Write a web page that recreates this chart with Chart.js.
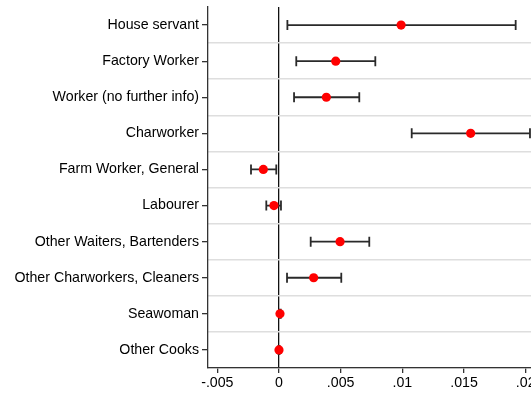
<!DOCTYPE html>
<html>
<head>
<meta charset="utf-8">
<script src="https://cdn.jsdelivr.net/npm/chart.js@4/dist/chart.umd.min.js"></script>
<style>
  html, body { margin: 0; padding: 0; background: #fff; overflow: hidden; }
  #wrap { width: 560px; height: 394px; }
</style>
</head>
<body>
<div id="wrap"><canvas id="c" width="560" height="394"></canvas></div>
<script>
// Occupation coefficients with 95% confidence intervals
const categories = [
  "House servant",
  "Factory Worker",
  "Worker (no further info)",
  "Charworker",
  "Farm Worker, General",
  "Labourer",
  "Other Waiters, Bartenders",
  "Other Charworkers, Cleaners",
  "Seawoman",
  "Other Cooks"
];
const estimates   = [0.0099, 0.0046, 0.00384, 0.01554, -0.00127, -0.00041, 0.00495, 0.00281, 0.00008, 0.0];
const lowerBounds = [0.00068, 0.0014, 0.00122, 0.01076, -0.00227, -0.00103, 0.00257, 0.00065, 0.00002, -0.00004];
const upperBounds = [0.01919, 0.00781, 0.00651, 0.02035, -0.00022, 0.00016, 0.00732, 0.00505, 0.00014, 0.00004];

const tickValues = [-0.005, 0, 0.005, 0.01, 0.015, 0.02];
const tickLabels = ["-.005", "0", ".005", ".01", ".015", ".02"];

// Horizontal confidence-interval whiskers, drawn beneath the point markers
const errorBars = {
  id: "errorBars",
  beforeDatasetsDraw(chart) {
    const { ctx, scales: { x, y } } = chart;
    ctx.save();
    ctx.strokeStyle = "#2a2a2a";
    ctx.lineWidth = 1.8;
    const cap = 5;
    categories.forEach((cat, i) => {
      const py = y.getPixelForValue(i);
      const x0 = x.getPixelForValue(lowerBounds[i]);
      const x1 = x.getPixelForValue(upperBounds[i]);
      ctx.beginPath();
      ctx.moveTo(x0, py); ctx.lineTo(x1, py);
      ctx.moveTo(x0, py - cap); ctx.lineTo(x0, py + cap);
      ctx.moveTo(x1, py - cap); ctx.lineTo(x1, py + cap);
      ctx.stroke();
    });
    ctx.restore();
  }
};

const font = { family: "'Liberation Sans', Arial, Helvetica, sans-serif" };

new Chart(document.getElementById("c"), {
  type: "scatter",
  data: {
    datasets: [{
      data: categories.map((c, i) => ({ x: estimates[i], y: c })),
      backgroundColor: "#ff0000",
      borderWidth: 0,
      pointRadius: 4.6,
      pointHoverRadius: 4.6
    }]
  },
  options: {
    responsive: false,
    devicePixelRatio: 1,
    animation: false,
    layout: { padding: { top: 7, right: 15, left: 0, bottom: 0 } },
    plugins: { legend: { display: false }, tooltip: { enabled: false } },
    scales: {
      x: {
        type: "linear",
        min: -0.005757,
        max: 0.021568,
        afterBuildTicks(scale) { scale.ticks = tickValues.map(v => ({ value: v })); },
        afterFit(scale) { scale.height = 26; },
        ticks: {
          autoSkip: false,
          maxRotation: 0,
          padding: 2,
          color: "#000",
          font: { ...font, size: 14.2 },
          callback: (v, i) => tickLabels[i]
        },
        grid: {
          drawOnChartArea: true,
          color: ctx => (ctx.tick && ctx.tick.value === 0) ? "#111" : "rgba(0,0,0,0)",
          lineWidth: 1.3,
          tickColor: "#333",
          tickLength: 5
        },
        border: { display: true, color: "#333", width: 1.3 }
      },
      y: {
        type: "category",
        labels: categories,
        offset: true,
        afterFit(scale) {
          scale.width = 208;
          scale.paddingTop = 0;
          scale.paddingBottom = 0;
        },
        ticks: {
          padding: 3,
          color: "#000",
          font: { ...font, size: 14.2 }
        },
        grid: {
          offset: false,
          drawOnChartArea: false,
          tickLength: 6,
          tickColor: "#333",
          lineWidth: 1.3
        },
        border: { display: true, color: "#333", width: 1.3 }
      },
      yBands: {
        type: "category",
        labels: categories,
        position: "right",
        offset: true,
        afterFit(scale) {
          scale.width = 0;
          scale.paddingTop = 0;
          scale.paddingBottom = 0;
        },
        ticks: { display: false },
        grid: {
          offset: true,
          drawTicks: false,
          color: ctx => ctx.index === 0 ? "rgba(0,0,0,0)" : "#dedede",
          lineWidth: 1.5
        },
        border: { display: false }
      }
    }
  },
  plugins: [errorBars]
});
</script>
</body>
</html>
